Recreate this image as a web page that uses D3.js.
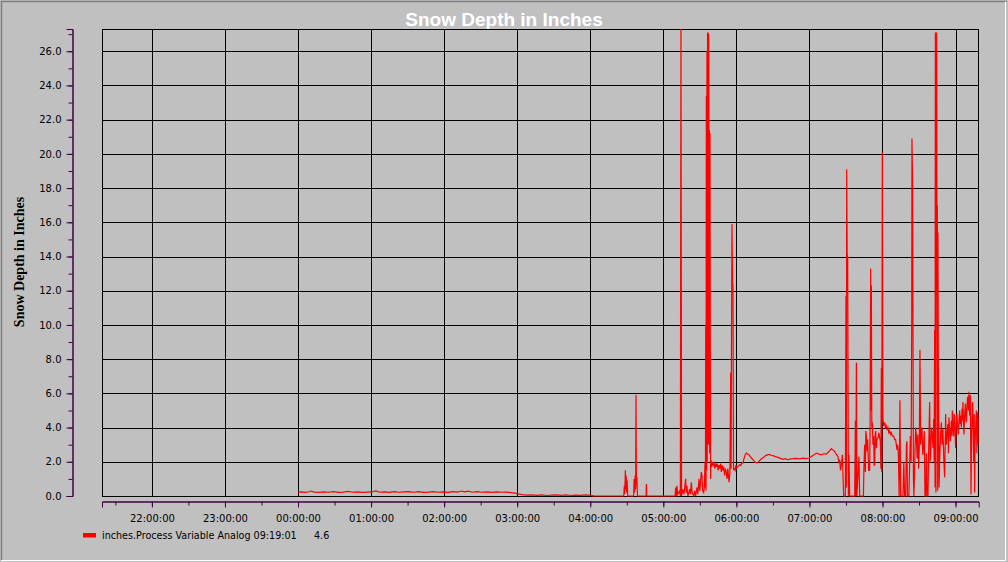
<!DOCTYPE html>
<html><head><meta charset="utf-8">
<script src="https://cdn.jsdelivr.net/npm/d3@7"></script>
<style>html,body{margin:0;padding:0;background:#c0c0c0;overflow:hidden}svg{display:block}</style>
</head><body>
<svg id="chart" width="1008" height="562"></svg>
<script>
const chartTitle = "Snow Depth in Inches";
const yAxisTitle = "Snow Depth in Inches";
const legendLabel = "inches.Process Variable Analog 09:19:01";
const legendValue = "4.6";
const xStart = "21:19:01";   // previous evening
const xEnd = "09:19:01";
const xTickLabels = ["22:00:00","23:00:00","00:00:00","01:00:00","02:00:00","03:00:00","04:00:00","05:00:00","06:00:00","07:00:00","08:00:00","09:00:00"];
const yTickValues = [0,2,4,6,8,10,12,14,16,18,20,22,24,26];
const yMax = 27.3;

const times = [
 "00:00:00","00:03:00","00:06:00","00:09:00","00:11:00","00:13:00","00:17:00","00:21:00","00:25:00","00:29:00",
 "00:33:00","00:37:00","00:41:00","00:45:00","00:49:00","00:53:00","00:57:00","01:01:00","01:04:00","01:07:00",
 "01:11:00","01:15:00","01:19:00","01:23:00","01:27:00","01:31:00","01:35:00","01:39:00","01:43:00","01:47:00",
 "01:51:00","01:55:00","01:59:00","02:03:00","02:07:00","02:11:00","02:14:00","02:17:00","02:20:00","02:23:00",
 "02:27:00","02:31:00","02:35:00","02:39:00","02:43:00","02:47:00","02:51:00","02:55:00","02:58:00","03:01:00",
 "03:04:00","03:08:00","03:12:00","03:16:00","03:20:00","03:24:00","03:28:00","03:32:00","03:36:00","03:40:00",
 "03:44:00","03:48:00","03:52:00","03:56:00","04:00:00","04:03:00","04:06:00","04:27:30",
 "04:28:00","04:28:20","04:28:50","04:29:10","04:29:30","04:29:50","04:30:20","04:30:45","04:35:40","04:36:00",
 "04:36:25","04:36:50","04:37:15","04:37:34","04:37:55","04:38:20","04:38:45","04:45:50","04:46:06","04:46:25",
 "05:09:40",
 "05:10:10","05:10:40","05:11:14","05:11:45","05:13:25","05:14:00","05:14:30","05:15:00","05:16:10","05:17:00",
 "05:18:20","05:18:50","05:19:25","05:20:10","05:21:40","05:22:20","05:23:00","05:23:40","05:25:00","05:25:45",
 "05:26:30","05:27:40","05:28:20","05:29:20","05:30:00","05:30:40","05:31:10","05:31:46","05:32:20","05:33:10",
 "05:33:40","05:34:15","05:34:35","05:34:50","05:35:05","05:35:20","05:35:35","05:35:50","05:36:05","05:36:20",
 "05:36:35","05:36:50","05:37:05","05:37:20","05:37:35","05:37:50","05:38:05","05:38:20","05:38:35","05:38:50",
 "05:39:10",
 "05:39:40","05:40:20","05:41:00","05:41:40","05:42:20","05:43:00","05:43:40","05:44:20","05:45:00","05:45:40",
 "05:46:20","05:47:00","05:47:40","05:48:20","05:49:00","05:49:40","05:50:20","05:51:00","05:51:40","05:52:20",
 "05:53:00","05:53:56","05:54:40","05:55:20","05:55:40","05:56:00","05:56:24","05:56:50","05:57:13","05:57:40",
 "05:58:20","05:59:00","05:59:40",
 "06:00:20","06:01:30","06:02:43","06:03:40","06:04:30","06:05:25","06:06:20","06:07:10","06:08:13","06:09:10",
 "06:10:00","06:10:55","06:12:00","06:13:38","06:15:00","06:16:55","06:18:00","06:19:10","06:20:31","06:22:00",
 "06:23:00","06:24:04","06:25:30","06:27:20","06:28:40","06:30:03","06:32:00","06:34:10","06:36:10","06:38:16",
 "06:40:20","06:42:23","06:44:30","06:46:29","06:49:00","06:52:00","06:54:40","06:57:30","06:59:40","07:01:36",
 "07:03:30","07:05:42","07:07:40","07:09:48","07:11:50","07:13:55","07:16:00","07:18:01","07:19:30","07:20:43",
 "07:22:00","07:23:26","07:24:10","07:24:50","07:25:30","07:26:14","07:27:03","07:27:33","07:28:08",
 "07:28:57","07:29:30","07:30:01","07:30:20","07:30:36","07:31:00","07:31:25","07:31:59","07:32:29","07:33:03",
 "07:37:10","07:37:44","07:38:05","07:38:34","07:39:00","07:40:41","07:41:16","07:44:20","07:44:47","07:45:20",
 "07:45:56","07:46:20","07:46:46","07:47:20","07:47:50","07:48:40","07:49:28","07:49:50","07:50:17","07:50:40",
 "07:50:52","07:51:15","07:51:41","07:52:10","07:52:45","07:53:10","07:53:35","07:54:00","07:54:24","07:55:00",
 "07:55:28","07:56:20","07:57:06","07:57:40","07:58:15","07:58:40","07:59:04","07:59:25","07:59:53","08:00:23",
 "08:01:00","08:01:47","08:02:30","08:03:10","08:03:50","08:04:29","08:05:10","08:05:53","08:06:40","08:07:17",
 "08:08:10","08:09:10","08:10:00","08:10:49","08:11:20","08:11:53","08:12:30","08:13:02","08:13:41","08:14:20",
 "08:14:55","08:16:49","08:17:30","08:18:10","08:19:01","08:19:40","08:20:05","08:20:30","08:21:40","08:22:53",
 "08:23:30","08:24:00","08:24:12","08:24:46","08:25:01","08:25:25","08:25:50","08:26:40","08:27:15","08:27:49",
 "08:28:30","08:29:00","08:29:42","08:30:15","08:30:46","08:31:20","08:31:50","08:32:25","08:33:05","08:33:48",
 "08:34:20","08:34:52","08:35:30","08:36:01","08:36:40","08:37:20","08:38:00","08:38:44","08:39:10","08:39:33",
 "08:40:15","08:40:57","08:41:30","08:42:01","08:42:25","08:42:50","08:43:10","08:43:25","08:43:40","08:43:54",
 "08:44:10","08:44:29","08:44:45","08:45:03","08:45:20","08:45:33","08:45:50","08:46:07","08:46:30","08:46:56",
 "08:47:40","08:48:20","08:49:00","08:49:39","08:50:20","08:51:03","08:51:30","08:51:52","08:52:20","08:52:56",
 "08:53:40","08:54:10","08:54:35","08:55:10","08:55:44","08:56:30","08:57:00","08:57:22","08:57:50","08:58:26",
 "08:58:50","08:59:16","08:59:40","09:00:05","09:00:35","09:01:09","09:01:40","09:02:18","09:02:50","09:03:22",
 "09:03:50","09:04:20","09:04:46","09:05:20","09:05:40","09:06:04","09:06:30","09:06:54","09:07:30","09:08:03",
 "09:08:30","09:08:52","09:09:20","09:09:56","09:10:30","09:11:00","09:11:35","09:12:09","09:12:40","09:13:13",
 "09:13:40","09:14:02","09:14:25","09:14:52","09:15:20","09:15:41","09:16:00","09:16:30","09:17:05","09:17:34",
 "09:18:08","09:18:35","09:19:01"
];
const depths = [
 0.22,0.24,0.21,0.25,0.29,0.23,0.21,0.24,0.22,0.25,
 0.21,0.23,0.27,0.22,0.24,0.21,0.23,0.25,0.30,0.22,
 0.24,0.21,0.25,0.22,0.24,0.26,0.22,0.25,0.21,0.23,
 0.26,0.22,0.24,0.21,0.25,0.23,0.29,0.24,0.28,0.22,
 0.25,0.22,0.24,0.21,0.24,0.22,0.23,0.20,0.17,0.12,
 0.08,0.05,0.07,0.04,0.06,0.03,0.05,0.07,0.04,0.06,
 0.03,0.05,0.04,0.06,0.04,0.01,0.00,0.00,
 0.6,0.1,1.5,0.4,1.2,0.2,0.9,0.0,0.0,1.0,
 0.2,1.2,0.4,5.9,0.6,1.1,0.0,0.0,0.7,0.0,
 0.0,
 0.5,0.0,0.6,0.1,0.3,0.0,28,0.0,0.4,0.1,
 1.0,0.2,0.6,0.0,0.4,0.1,0.8,0.2,0.0,0.3,
 0.0,0.5,0.1,1.0,0.3,0.9,1.4,1.2,0.3,0.2,
 0.5,2.0,0.5,10.0,0.3,23.4,1.5,26.0,2.0,27.1,
 5.0,27.1,3.0,27.0,8.0,21.4,2.5,21.2,8.1,1.0,
 2.1,
 1.7,2.0,1.8,1.9,1.6,1.9,1.7,1.9,1.5,1.8,
 1.6,1.9,1.4,1.8,1.5,1.7,1.2,1.6,1.4,1.0,
 1.6,0.8,1.3,7.2,1.6,9.0,15.9,12.4,12.3,1.5,
 1.6,1.5,1.8,
 1.64,1.75,1.83,1.78,1.95,1.93,2.2,2.4,2.51,2.45,
 2.42,2.36,2.25,2.12,2.0,1.93,1.98,2.08,2.16,2.25,
 2.3,2.36,2.4,2.43,2.38,2.36,2.3,2.26,2.2,2.14,
 2.18,2.12,2.17,2.18,2.2,2.17,2.21,2.18,2.22,2.31,
 2.4,2.51,2.45,2.41,2.47,2.45,2.6,2.77,2.68,2.6,
 2.45,2.31,2.0,2.12,1.5,1.83,2.41,1.2,0.0,
 0.0,0.0,11.7,0.5,19.1,14.1,14.0,0.0,2.4,0.0,
 0.0,4.4,0.0,7.8,0.0,2.3,0.0,0.0,1.7,3.0,
 1.4,3.8,3.5,2.6,3.3,1.5,1.5,4.0,13.3,5.0,
 12.3,4.0,4.3,3.0,3.5,1.8,1.8,3.6,3.8,2.8,
 3.3,3.4,3.7,3.4,3.2,1.6,7.5,1.4,20.1,4.5,
 4.1,4.3,4.0,4.1,3.9,4.0,3.7,3.8,3.6,3.7,
 3.5,3.5,3.3,3.3,3.0,2.7,3.0,2.5,0.0,5.6,
 0.0,0.0,2.0,0.0,0.0,3.0,3.2,0.0,0.0,3.5,
 2.0,10.0,20.9,18.1,10.9,1.0,0.0,2.5,4.0,3.5,
 2.2,3.6,1.6,3.0,8.55,3.0,3.6,4.0,2.4,3.0,
 3.8,0.0,0.0,2.5,0.0,0.0,3.0,5.5,2.0,2.5,
 4.0,3.5,2.8,4.5,2.0,9.7,0.5,27.1,11.0,0.2,
 15.0,27.1,12.0,17.0,0.3,15.4,8.0,5.0,0.5,2.0,
 3.5,4.3,3.0,3.9,2.2,1.1,3.0,4.8,3.0,3.5,
 4.2,2.5,4.6,3.8,3.2,4.4,3.5,5.0,4.0,3.5,
 4.8,4.6,3.6,2.8,4.2,4.8,4.0,3.6,4.5,5.0,
 4.2,4.7,4.0,5.1,4.4,5.5,4.5,3.6,4.8,5.4,
 4.6,4.3,5.2,5.8,5.0,6.1,4.7,5.9,0.1,3.5,
 5.2,5.5,4.2,2.0,4.8,0.2,3.0,4.0,5.0,2.5,
 4.9,3.0,4.6
];

// ---- helpers ----
function toDate(s, eveningDay) {
  const [h, m, sec] = s.split(":").map(Number);
  const day = (eveningDay && h >= 12) ? 1 : 2;
  return new Date(2000, 0, day, h, m, sec);
}
const data = times.map((t, i) => ({ t: toDate(t, false), v: depths[i] }));

const svg = d3.select("#chart");
const W = 1008, H = 562;
const plot = { left: 102, top: 29, right: 978.7, bottom: 496 };
const axisColor = "#400040";
const tickFont = "DejaVu Sans, Verdana, sans-serif";

const x = d3.scaleTime()
  .domain([toDate(xStart, true), toDate(xEnd, false)])
  .range([plot.left, plot.right]);
const y = d3.scaleLinear().domain([0, yMax]).range([plot.bottom, plot.top]);

// background + frame
svg.append("rect").attr("width", W).attr("height", H).attr("fill", "#c0c0c0");
svg.append("path").attr("d", `M1.5,${H-1}V1.5H${W-1}`).attr("fill", "none").attr("stroke", "#808080").attr("stroke-width", 1.5);
svg.append("path").attr("d", `M1,560.5H1005.5V1.5`).attr("fill", "none").attr("stroke", "#ffffff").attr("stroke-width", 1);

// title
svg.append("text").attr("x", 504).attr("y", 25.5).attr("text-anchor", "middle")
  .attr("font-family", "Liberation Sans, Arial, sans-serif").attr("font-weight", "bold")
  .attr("font-size", 19).attr("fill", "#ffffff").text(chartTitle);

// y axis title
svg.append("text").attr("transform", "translate(24,262) rotate(-90)").attr("text-anchor", "middle")
  .attr("font-family", "Liberation Serif, Times New Roman, serif").attr("font-weight", "bold")
  .attr("font-size", 14).attr("fill", "#000").text(yAxisTitle);

const crisp = v => Math.round(v) + 0.5;

// grid
const xTickDates = xTickLabels.map(s => toDate(s, true));
const grid = svg.append("g").attr("stroke", "#000").attr("stroke-width", 1).attr("shape-rendering", "crispEdges");
grid.selectAll("line.h").data(yTickValues).join("line").attr("class", "h")
  .attr("x1", plot.left).attr("x2", plot.right).attr("y1", d => crisp(y(d))).attr("y2", d => crisp(y(d)));
grid.selectAll("line.v").data(xTickDates).join("line").attr("class", "v")
  .attr("y1", plot.top).attr("y2", plot.bottom).attr("x1", d => crisp(x(d))).attr("x2", d => crisp(x(d)));
svg.append("rect").attr("x", plot.left + 0.5).attr("y", plot.top + 0.5)
  .attr("width", Math.round(plot.right - plot.left) - 1).attr("height", plot.bottom - plot.top)
  .attr("fill", "none").attr("stroke", "#000").attr("shape-rendering", "crispEdges");

// data line
svg.append("clipPath").attr("id", "clip").append("rect")
  .attr("x", plot.left).attr("y", plot.top).attr("width", plot.right - plot.left).attr("height", plot.bottom - plot.top + 1);
const line = d3.line().x(d => x(d.t)).y(d => y(d.v));
svg.append("path").datum(data).attr("clip-path", "url(#clip)")
  .attr("fill", "none").attr("stroke", "#ff0000").attr("stroke-width", 1.2)
  .attr("stroke-linejoin", "miter").attr("d", line);

// y axis (minor + major)
const yMinorVals = d3.range(0, Math.floor(yMax) + 1, 1);
const yAxisG = svg.append("g").attr("transform", "translate(72.5,0)");
yAxisG.call(d3.axisLeft(y).tickValues(yMinorVals).tickSize(4).tickSizeOuter(0).tickFormat(""));
yAxisG.append("g").call(d3.axisLeft(y).tickValues(yTickValues).tickSize(6).tickPadding(5).tickFormat(d3.format(".1f")));
yAxisG.selectAll("path,line").attr("stroke", axisColor);
yAxisG.selectAll("text").attr("font-family", tickFont).attr("font-size", 10).attr("fill", "#000");

// x axis (minor + major)
const xMinor = d3.timeMinute.every(30).range(x.domain()[0], x.domain()[1]);
const xAxisG = svg.append("g").attr("transform", "translate(0,501.5)");
xAxisG.call(d3.axisBottom(x).tickValues(xMinor).tickSize(4).tickSizeOuter(0).tickFormat(""));
xAxisG.append("g").call(d3.axisBottom(x).tickValues(xTickDates).tickSize(6).tickPadding(7)
  .tickFormat((d, i) => xTickLabels[i]));
xAxisG.selectAll("path,line").attr("stroke", axisColor);
xAxisG.selectAll("text").attr("font-family", tickFont).attr("font-size", 10).attr("fill", "#000");

// legend
svg.append("rect").attr("x", 83).attr("y", 533).attr("width", 13).attr("height", 4.5).attr("fill", "#ff0000");
svg.append("text").attr("x", 102).attr("y", 539).attr("font-family", tickFont).attr("font-size", 9.6)
  .attr("fill", "#000").text(legendLabel);
svg.append("text").attr("x", 314).attr("y", 539).attr("font-family", tickFont).attr("font-size", 9.6)
  .attr("fill", "#000").text(legendValue);
</script>
</body></html>
